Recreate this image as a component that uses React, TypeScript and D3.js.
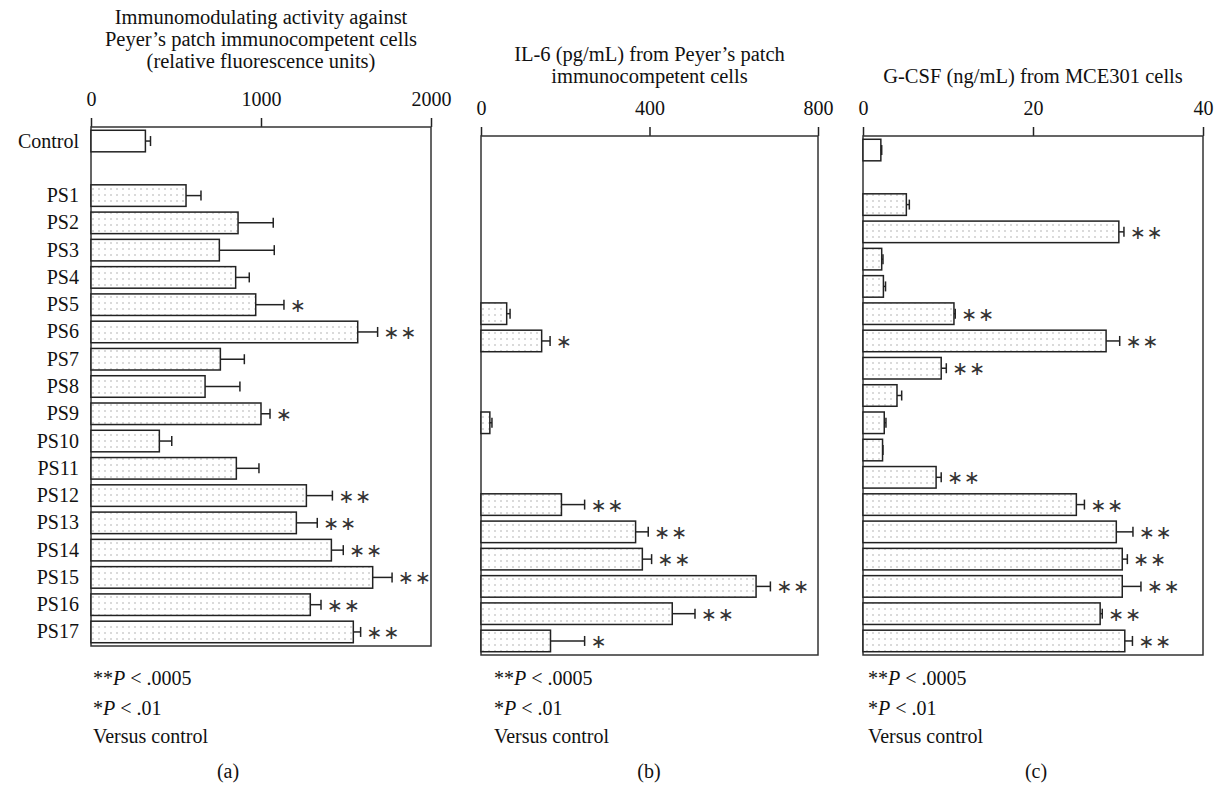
import React, { useRef, useEffect } from "react";
import * as d3 from "d3";

// categories, top to bottom ("gap" is the empty row under Control)
const categories = ["Control", "PS1", "PS2", "PS3", "PS4", "PS5", "PS6", "PS7", "PS8", "PS9",
  "PS10", "PS11", "PS12", "PS13", "PS14", "PS15", "PS16", "PS17"];
const slots = ["Control", "gap", ...categories.slice(1)];

// (a) immunomodulating activity, relative fluorescence units
const activity = [320, 559, 865, 755, 851, 969, 1569, 761, 671, 1000, 402, 855, 1267, 1208, 1414, 1657, 1290, 1543];
const activityErr = [30, 88, 207, 323, 80, 166, 117, 141, 205, 53, 73, 133, 153, 123, 70, 114, 63, 43];
const activitySig = ["", "", "", "", "", "*", "**", "", "", "*", "", "", "**", "**", "**", "**", "**", "**"];

// (b) IL-6 pg/mL (null = not shown)
const il6 = [null, null, null, null, null, 61, 144, null, null, 21, null, null, 191, 367, 383, 653, 454, 165];
const il6Err = [null, null, null, null, null, 8, 20, null, null, 5, null, null, 55, 30, 22, 34, 54, 81];
const il6Sig = ["", "", "", "", "", "", "*", "", "", "", "", "", "**", "**", "**", "**", "**", "*"];

// (c) G-CSF ng/mL
const gcsf = [2.1, 5.1, 30.1, 2.2, 2.4, 10.7, 28.6, 9.2, 4.0, 2.5, 2.3, 8.6, 25.1, 29.8, 30.5, 30.5, 27.9, 30.8];
const gcsfErr = [0.1, 0.35, 0.6, 0.15, 0.25, 0.15, 1.6, 0.6, 0.55, 0.2, 0.05, 0.6, 0.95, 1.96, 0.6, 2.2, 0.25, 0.9];
const gcsfSig = ["", "", "**", "", "", "**", "**", "**", "", "", "", "**", "**", "**", "**", "**", "**", "**"];

const ticksA = [0, 1000, 2000];
const ticksB = [0, 400, 800];
const ticksC = [0, 20, 40];

const titleA = ["Immunomodulating activity against", "Peyer\u2019s patch immunocompetent cells", "(relative fluorescence units)"];
const titleB = ["IL-6 (pg/mL) from Peyer\u2019s patch", "immunocompetent cells"];
const titleC = ["G-CSF (ng/mL) from MCE301 cells"];

const SERIF = "'Liberation Serif', 'Times New Roman', serif";
const INK = "#222";

type Panel = {
  key: string;
  x: d3.ScaleLinear<number, number>;
  y: d3.ScaleBand<string>;
  ticks: number[];
  values: (number | null)[];
  errs: (number | null)[];
  sig: string[];
  title: string[];
  titleY: number[];
  labels: boolean;
  noteX: number;
  letter: string;
  letterX: number;
};

function band(top: number, bottom: number) {
  return d3.scaleBand<string>().domain(slots).range([top, bottom]).paddingInner(0.21).paddingOuter(0.12);
}

const panels: Panel[] = [
  {
    key: "a", x: d3.scaleLinear().domain([0, 2000]).range([91, 431]), y: band(127, 646),
    ticks: ticksA, values: activity, errs: activityErr, sig: activitySig,
    title: titleA, titleY: [24, 46, 68], labels: true, noteX: 93, letter: "(a)", letterX: 228,
  },
  {
    key: "b", x: d3.scaleLinear().domain([0, 800]).range([481, 818]), y: band(136, 655),
    ticks: ticksB, values: il6, errs: il6Err, sig: il6Sig,
    title: titleB, titleY: [61, 83], labels: false, noteX: 494, letter: "(b)", letterX: 649,
  },
  {
    key: "c", x: d3.scaleLinear().domain([0, 40]).range([863, 1203]), y: band(136, 655),
    ticks: ticksC, values: gcsf, errs: gcsfErr, sig: gcsfSig,
    title: titleC, titleY: [83], labels: false, noteX: 868, letter: "(c)", letterX: 1036,
  },
];

function Axis({ p }: { p: Panel }) {
  const ref = useRef<SVGGElement>(null);
  useEffect(() => {
    const g = d3.select(ref.current);
    g.call(d3.axisTop(p.x).tickValues(p.ticks).tickSize(9).tickPadding(12).tickFormat(d3.format("d")));
    g.select(".domain").remove();
    g.selectAll(".tick line").attr("stroke", INK).attr("stroke-width", 1.5);
    g.selectAll(".tick text")
      .attr("font-family", SERIF)
      .attr("font-size", 20)
      .attr("fill", "#111");
  }, [p]);
  const top = p.y.range()[0];
  return <g ref={ref} transform={`translate(0,${top})`} />;
}

function PanelView({ p }: { p: Panel }) {
  const [x0, x1] = p.x.range();
  const [top, bottom] = p.y.range();
  const bw = p.y.bandwidth();
  const mid = (x0 + x1) / 2;
  return (
    <g>
      {p.title.map((t, i) => (
        <text key={i} x={mid} y={p.titleY[i]} textAnchor="middle" fontFamily={SERIF} fontSize={20.5} fill="#111">{t}</text>
      ))}
      <Axis p={p} />
      <rect x={x0} y={top} width={x1 - x0} height={bottom - top} fill="none" stroke="#333" strokeWidth={1.5} />
      {categories.map((c, i) => {
        const y0 = p.y(c)!;
        const cy = y0 + bw / 2;
        const v = p.values[i];
        return (
          <g key={c}>
            {p.labels && (
              <text x={79} y={cy + 6.5} textAnchor="end" fontFamily={SERIF} fontSize={20} fill="#111">{c}</text>
            )}
            {v != null && (() => {
              const xe = p.x(v + (p.errs[i] ?? 0));
              return (
                <g>
                  <rect x={x0} y={y0} width={p.x(v) - x0} height={bw}
                    fill={i === 0 ? "#fff" : "url(#dots)"} stroke={INK} strokeWidth={1.5} />
                  <line x1={p.x(v)} x2={xe} y1={cy} y2={cy} stroke={INK} strokeWidth={1.5} />
                  <line x1={xe} x2={xe} y1={cy - 5} y2={cy + 5} stroke={INK} strokeWidth={1.5} />
                  {p.sig[i] && (
                    <text x={xe + 6} y={cy + 7} fontFamily="'DejaVu Sans', sans-serif" fontSize={19}
                      letterSpacing={1} fill="#333">{p.sig[i].replace(/\*/g, "\u2217")}</text>
                  )}
                </g>
              );
            })()}
          </g>
        );
      })}
      <text x={p.noteX} y={685} fontFamily={SERIF} fontSize={20} fill="#111">
        <tspan>**</tspan><tspan fontStyle="italic">P</tspan><tspan> &lt; .0005</tspan>
      </text>
      <text x={p.noteX} y={715} fontFamily={SERIF} fontSize={20} fill="#111">
        <tspan>*</tspan><tspan fontStyle="italic">P</tspan><tspan> &lt; .01</tspan>
      </text>
      <text x={p.noteX} y={743} fontFamily={SERIF} fontSize={20} fill="#111">Versus control</text>
      <text x={p.letterX} y={778} textAnchor="middle" fontFamily={SERIF} fontSize={20} fill="#111">{p.letter}</text>
    </g>
  );
}

export default function App() {
  return (
    <svg width={1220} height={788} style={{ position: "absolute", left: 0, top: 0, background: "#fff" }}>
      <defs>
        <pattern id="dots" width={6} height={6} patternUnits="userSpaceOnUse">
          <rect width={6} height={6} fill="#fff" />
          <circle cx={3} cy={3} r={0.7} fill="#999" />
        </pattern>
      </defs>
      {panels.map((p) => (
        <PanelView key={p.key} p={p} />
      ))}
    </svg>
  );
}
